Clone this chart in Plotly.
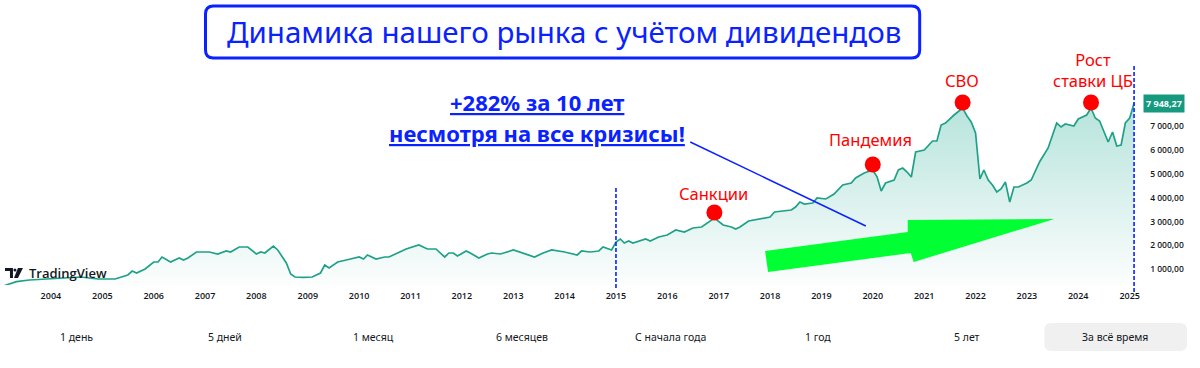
import plotly.graph_objects as go

# ---------------- data ----------------
dates = [
    "2003-02", "2003-05", "2003-08", "2004-01", "2004-04", "2004-08", "2004-12",
    "2005-02", "2005-04", "2005-07", "2005-08", "2005-09", "2005-11",
    "2006-01", "2006-02", "2006-03", "2006-05", "2006-07", "2006-08", "2006-09", "2006-11",
    "2007-02", "2007-04", "2007-06", "2007-07", "2007-09", "2007-11",
    "2008-01", "2008-02", "2008-03", "2008-05", "2008-06", "2008-07", "2008-08", "2008-09", "2008-10", "2008-12",
    "2009-02", "2009-04", "2009-05", "2009-06", "2009-08", "2009-10",
    "2010-01", "2010-02", "2010-03", "2010-05", "2010-07", "2010-08", "2010-10", "2010-12",
    "2011-03", "2011-05", "2011-07", "2011-09", "2011-10", "2011-11", "2011-12",
    "2012-02", "2012-03", "2012-05", "2012-07", "2012-08", "2012-10",
    "2013-01", "2013-06", "2013-08", "2013-10",
    "2014-01", "2014-04", "2014-05", "2014-07", "2014-09", "2014-10", "2014-12",
    "2015-01", "2015-02", "2015-03", "2015-04", "2015-05", "2015-08", "2015-09", "2015-11",
    "2016-01", "2016-03", "2016-05", "2016-07", "2016-09", "2016-12",
    "2017-02", "2017-03", "2017-04", "2017-05", "2017-06", "2017-08", "2017-11",
    "2018-01", "2018-02", "2018-04", "2018-06", "2018-07", "2018-08", "2018-09", "2018-11", "2018-12",
    "2019-02", "2019-04", "2019-06", "2019-08", "2019-09", "2019-11",
    "2020-01", "2020-02", "2020-03", "2020-04", "2020-06", "2020-07", "2020-08", "2020-09", "2020-10", "2020-11",
    "2021-01", "2021-03", "2021-04", "2021-05", "2021-06", "2021-08", "2021-10", "2021-11", "2021-12",
    "2022-01", "2022-02", "2022-03", "2022-04", "2022-05", "2022-06", "2022-07", "2022-08", "2022-09", "2022-10", "2022-11",
    "2023-01", "2023-02", "2023-04", "2023-06", "2023-08", "2023-09", "2023-10", "2023-12",
    "2024-01", "2024-03", "2024-04", "2024-05", "2024-06", "2024-08", "2024-09", "2024-10", "2024-11", "2024-12",
    "2025-01", "2025-02",
]
values = [
    318, 485, 556, 598, 640, 682, 598,
    598, 598, 766, 933, 849, 1017,
    1310, 1310, 1519, 1310, 1477, 1393, 1477, 1728,
    1728, 1644, 1770, 1728, 1937, 1937,
    1644, 1728, 1686, 1979, 1812, 1519, 1268, 808, 682, 670,
    682, 849, 1184, 1059, 1310, 1393,
    1519, 1435, 1603, 1435, 1519, 1519, 1686, 1854,
    2021, 1854, 1854, 1519, 1686, 1686, 1561,
    1770, 1686, 1477, 1644, 1686, 1644,
    1812, 1519, 1686, 1812,
    1728, 1603, 1770, 1728, 1770, 1937, 1812,
    2146, 2272, 2105, 2188, 2105, 2272, 2188, 2356,
    2439, 2649, 2565, 2732, 2774, 3151,
    2858, 2816, 2774, 2690, 2774, 3025, 3109,
    3192, 3402, 3444, 3485, 3611, 3820, 3736, 3778, 3987,
    3946, 4155, 4531, 4615, 4824, 5033,
    5159, 4866, 4280, 4615, 4741, 5159, 5243, 5075, 4866, 5912,
    5996, 6372, 6372, 7042, 7126, 7460, 7753, 7418, 7167,
    6707, 4782, 5159, 4741, 4531, 4238, 4364, 4657, 3820, 4448, 4448,
    4615, 4741, 5494, 6080, 7126, 6958, 7084, 7000,
    7293, 7460, 7753, 7335, 7209, 6331, 6749, 6163, 6205, 7126,
    7335, 7948.27,
]

event_labels = ["Санкции", "Пандемия", "СВО", "Рост<br>ставки ЦБ"]
event_dates = ["2016-12", "2020-01", "2021-10", "2024-04"]

marker_date = "2015-01-01"          # start of the "10 years" period
year_ticks = [str(y) for y in range(2004, 2026)]
y_ticks = [1000, 2000, 3000, 4000, 5000, 6000, 7000]
range_buttons = ["1 день", "5 дней", "1 месяц", "6 месяцев", "С начала года",
                 "1 год", "5 лет", "За всё время"]

title_text = "Динамика нашего рынка с учётом дивидендов"
claim_lines = ["+282% за 10 лет", "несмотря на все кризисы!"]

# ---------------- layout helpers ----------------
W, H = 1200, 368


def px(x, y):
    return x / W, 1 - y / H


LINE = "#1fa188"
BLUE = "#0a22ff"
RED = "#ff0000"

y_lo, y_hi = 347, 9762
units_per_px = (y_hi - y_lo) / (285 - 60)

fig = go.Figure()

fig.add_trace(go.Scatter(
    x=dates, y=values, mode="lines",
    line=dict(color=LINE, width=1.7),
    fill="tozeroy",
    fillgradient=dict(type="vertical",
                      colorscale=[[0, "rgba(34,171,148,0.0)"],
                                  [1, "rgba(34,171,148,0.33)"]]),
    hoverinfo="skip", showlegend=False,
))

# event dots
ev_vals = [values[dates.index(d)] for d in event_dates]
dot_y = [v + 5.5 * units_per_px for v in ev_vals]
fig.add_trace(go.Scatter(
    x=event_dates, y=dot_y, mode="markers",
    marker=dict(color=RED, size=16, line=dict(width=0)),
    hoverinfo="skip", showlegend=False, cliponaxis=False,
))

annotations = []
label_dx = [-1, -2, -1, 2]
label_dy = [5, 12, 9, 9]
for lab, d, yv, dx, dy in zip(event_labels, event_dates, dot_y, label_dx, label_dy):
    annotations.append(dict(
        x=d, y=yv, xref="x", yref="y", text=lab, showarrow=False,
        xanchor="center", yanchor="bottom", xshift=dx, yshift=dy,
        font=dict(family="Noto Sans", size=16.5, color=RED), align="center",
    ))

# title
tx, ty = px(565, 32)
annotations.append(dict(x=tx, y=ty, xref="paper", yref="paper", text=title_text,
                        showarrow=False, xanchor="center", yanchor="middle",
                        font=dict(family="Noto Sans", size=29.5, color=BLUE)))

# claim text
for line_txt, yy in zip(claim_lines, [102, 133]):
    cx, cy = px(538, yy)
    annotations.append(dict(x=cx, y=cy, xref="paper", yref="paper",
                            text=f"<b><u>{line_txt}</u></b>", showarrow=False,
                            xanchor="center", yanchor="middle",
                            font=dict(family="Noto Sans", size=22, color=BLUE)))

# last value label
lx, ly = px(1146, 0)
last_txt = f"{values[-1]:,.2f}".replace(",", " ").replace(".", ",")
annotations.append(dict(x=lx, y=values[-1], xref="paper", yref="y", text=f"<b>{last_txt}</b>",
                        showarrow=False, xanchor="left", yanchor="middle",
                        bgcolor="#159a7f", borderpad=2,
                        font=dict(family="Open Sans", size=9, color="white")))

# TradingView logo text
bx, by = px(27, 273)
annotations.append(dict(x=bx, y=by, xref="paper", yref="paper", text="TradingView",
                        showarrow=False, xanchor="left", yanchor="middle",
                        font=dict(family="Open Sans", size=13, color="#131722", weight=600)))

# range buttons
for i, b in enumerate(range_buttons):
    bx, by = px(77 + i * 148.7, 337)
    annotations.append(dict(x=bx, y=by, xref="paper", yref="paper", text=b,
                            showarrow=False, xanchor="center", yanchor="middle",
                            font=dict(family="Noto Sans", size=10.5, color="#131722")))


def rounded_rect(x0, y0, x1, y1, r):
    def P(x, y):
        a, b = px(x, y)
        return f"{a:.5f},{b:.5f}"
    return (f"M {P(x0 + r, y0)} L {P(x1 - r, y0)} Q {P(x1, y0)} {P(x1, y0 + r)} "
            f"L {P(x1, y1 - r)} Q {P(x1, y1)} {P(x1 - r, y1)} "
            f"L {P(x0 + r, y1)} Q {P(x0, y1)} {P(x0, y1 - r)} "
            f"L {P(x0, y0 + r)} Q {P(x0, y0)} {P(x0 + r, y0)} Z")


def poly(points):
    return "M " + " L ".join("{:.5f},{:.5f}".format(*px(x, y)) for x, y in points) + " Z"


shapes = []
# title box
shapes.append(dict(type="path", xref="paper", yref="paper",
                   path=rounded_rect(206, 6, 922, 58, 8),
                   line=dict(color=BLUE, width=3), fillcolor="white", layer="below"))
# button background
shapes.append(dict(type="path", xref="paper", yref="paper",
                   path=rounded_rect(1047, 323, 1190, 351, 7),
                   line=dict(width=0), fillcolor="#f0f0f0", layer="below"))
# dashed vertical lines
shapes.append(dict(type="line", xref="x", yref="paper", x0=marker_date, x1=marker_date,
                   y0=px(0, 288)[1], y1=px(0, 188)[1],
                   line=dict(color=BLUE, width=1.6, dash="4px,2px")))
shapes.append(dict(type="line", xref="x", yref="paper", x0=dates[-1], x1=dates[-1],
                   y0=px(0, 292)[1], y1=px(0, 65)[1],
                   line=dict(color=BLUE, width=1.6, dash="4px,2px")))
# pointer line
p0 = px(692, 142)
p1 = px(868, 226)
shapes.append(dict(type="line", xref="paper", yref="paper", x0=p0[0], y0=p0[1],
                   x1=p1[0], y1=p1[1], line=dict(color=BLUE, width=1.5)))
# green arrow
shapes.append(dict(type="path", xref="paper", yref="paper",
                   path=poly([(767, 251), (910, 232), (910, 220), (1057, 219),
                              (916, 262), (913, 253), (770, 272)]),
                   line=dict(width=0), fillcolor="#00ff33"))
# logo glyph
shapes.append(dict(type="path", xref="paper", yref="paper",
                   path=poly([(5, 268), (13, 268), (13, 278), (10, 278), (10, 271), (5, 271)]),
                   line=dict(width=0), fillcolor="#131722"))
shapes.append(dict(type="path", xref="paper", yref="paper",
                   path=poly([(18, 268), (23, 268), (18, 278), (14, 278)]),
                   line=dict(width=0), fillcolor="#131722"))
c0 = px(13.5, 268.5)
c1 = px(16.5, 271.5)
shapes.append(dict(type="circle", xref="paper", yref="paper", x0=c0[0], y0=c1[1],
                   x1=c1[0], y1=c0[1], line=dict(width=0), fillcolor="#131722"))

fig.update_layout(
    width=W, height=H,
    margin=dict(l=0, r=0, t=0, b=0),
    paper_bgcolor="white", plot_bgcolor="rgba(0,0,0,0)",
    separators=", ",
    showlegend=False,
    annotations=annotations,
    shapes=shapes,
    xaxis=dict(
        domain=[0, 1140 / W],
        type="date",
        range=["2003-01-04", "2025-02-23"],
        tickvals=[f"{y}-01-01" for y in year_ticks],
        ticktext=year_ticks,
        showgrid=False, zeroline=False, showline=False, ticks="",
        ticklabelstandoff=4,
        tickfont=dict(family="Open Sans", size=9, color="#131722", weight=600),
        fixedrange=True,
    ),
    yaxis=dict(
        domain=[1 - 285 / H, 1 - 60 / H],
        range=[y_lo, y_hi],
        side="right",
        tickvals=y_ticks,
        tickformat=",.2f",
        showgrid=False, zeroline=False, showline=False, ticks="",
        ticklabelstandoff=12,
        tickfont=dict(family="Open Sans", size=8.5, color="#131722", weight=600),
        fixedrange=True,
    ),
)

fig.write_html("out.html")
